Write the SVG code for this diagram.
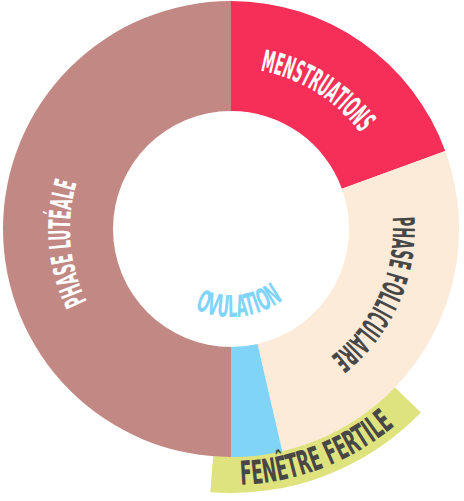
<svg xmlns="http://www.w3.org/2000/svg" width="464" height="501" viewBox="0 0 464 501">
<style>
.lbl{font-family:"DejaVu Sans Condensed","DejaVu Sans",sans-serif;font-weight:bold;font-stretch:condensed}
.w{fill:#ffffff;font-size:30px}
.d{fill:#474747}
</style>
<defs>
<path id="pM" d="M150.5,89.57 A161 161 0 0 1 391.61,240.23"/>
<path id="pF" d="M355.1,124.87 A162 162 0 0 1 236.65,390.9"/>
<path id="pL" d="M162.96,374.92 A161 161 0 0 1 138.65,97.12"/>
<path id="pO" d="M159.81,280.73 A88 88 0 0 0 311.39,264.79"/>
<path id="pW" d="M143.44,469.56 A256 256 0 0 0 457.04,349.18"/>
</defs>
<g id="fenetre-fertile">
<path d="M393.56,386.0 A226 226 0 0 1 213.29,454.3 L210.29,492.19 A264 264 0 0 0 420.9,412.4 Z" fill="#dfe37e"/>
</g>
<g id="menstruations">
<path d="M231,1 A228 228 0 0 1 445.25,151.02 L341.88,188.64 A118 118 0 0 0 231,111 Z" fill="#f52f57"/>
</g>
<g id="phase-folliculaire">
<path d="M445.25,151.02 A228 228 0 0 1 282.29,451.16 L257.54,343.98 A118 118 0 0 0 341.88,188.64 Z" fill="#fdebda"/>
</g>
<g id="ovulation">
<path d="M282.29,451.16 A228 228 0 0 1 231,457 L231,347 A118 118 0 0 0 257.54,343.98 Z" fill="#7fd4f8"/>
</g>
<g id="phase-luteale">
<path d="M231,457 A228 228 0 0 1 231,1 L231,111 A118 118 0 0 0 231,347 Z" fill="#c28884"/>
</g>
<g id="labels">
<text class="lbl w"><textPath href="#pM" startOffset="50%" text-anchor="middle" textLength="121" lengthAdjust="spacingAndGlyphs">MENSTRUATIONS</textPath></text>
<text class="lbl d" font-size="30"><textPath href="#pF" startOffset="50%" text-anchor="middle" textLength="159" lengthAdjust="spacingAndGlyphs">PHASE FOLLICULAIRE</textPath></text>
<text class="lbl w"><textPath href="#pL" startOffset="50%" text-anchor="middle" textLength="122" lengthAdjust="spacingAndGlyphs">PHASE LUTÉALE</textPath></text>
<text class="lbl" fill="#7fd4f8" font-size="30"><textPath href="#pO" startOffset="50%" text-anchor="middle" textLength="93" lengthAdjust="spacingAndGlyphs">OVULATION</textPath></text>
<text class="lbl d" font-size="33"><textPath href="#pW" startOffset="50%" text-anchor="middle" textLength="168" lengthAdjust="spacingAndGlyphs">FENÊTRE FERTILE</textPath></text>
</g>
</svg>
